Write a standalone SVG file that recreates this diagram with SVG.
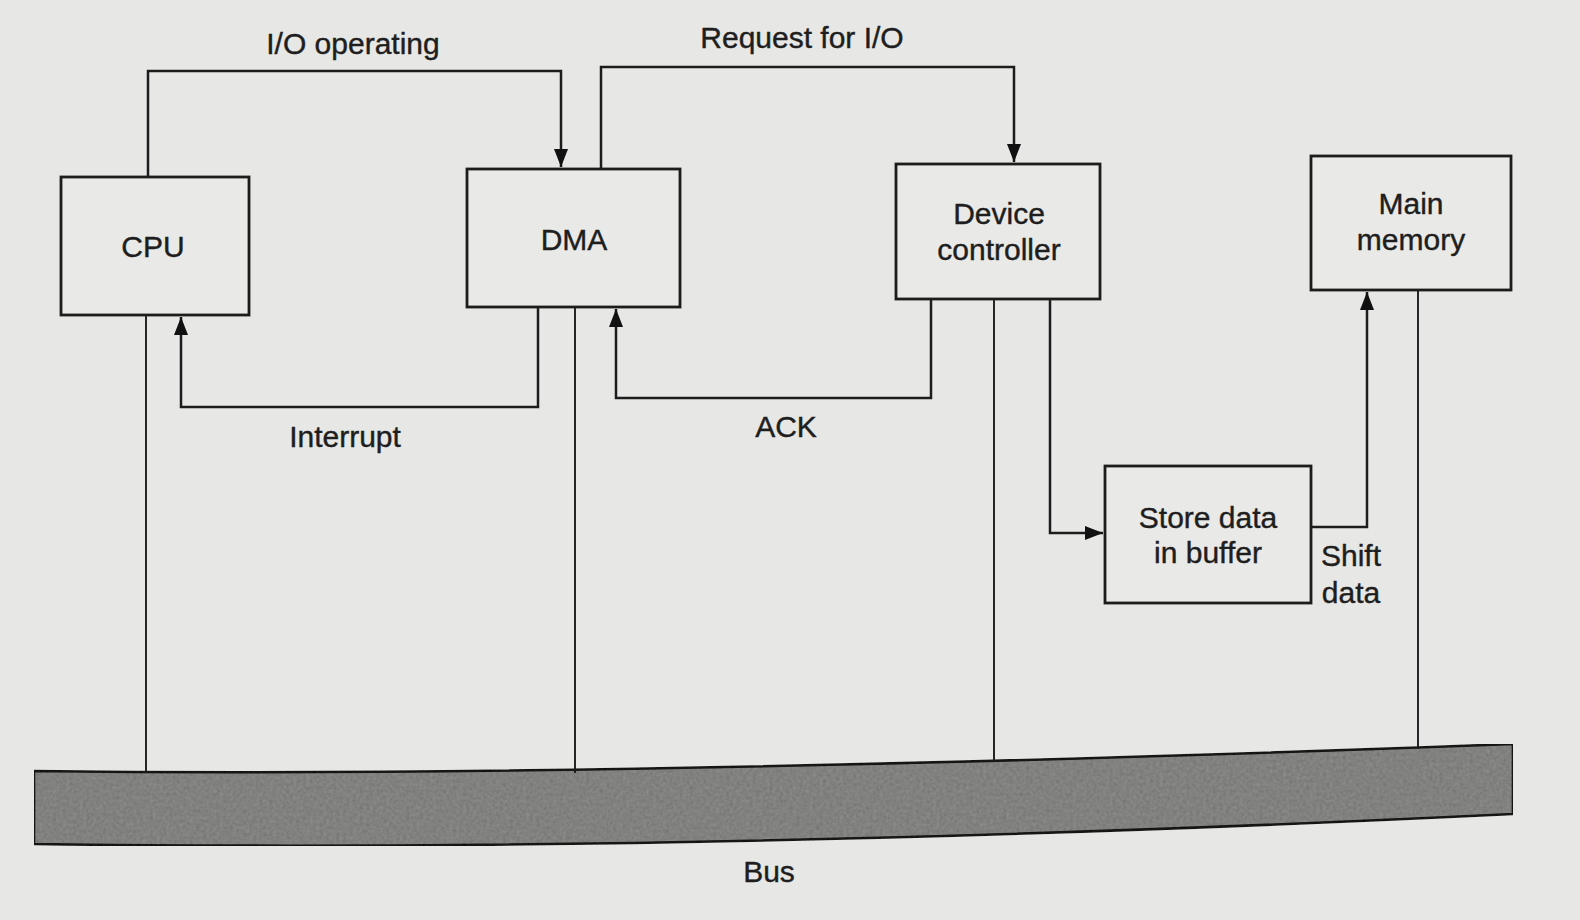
<svg xmlns="http://www.w3.org/2000/svg" width="1580" height="920" viewBox="0 0 1580 920">
<defs>
<style>
.bg{fill:#e7e7e5}
.box{fill:#e9e9e7;stroke:#1c1c1c;stroke-width:2.8}
.wire{fill:none;stroke:#1c1c1c;stroke-width:2.5}
.busline{fill:none;stroke:#1c1c1c;stroke-width:1.9}
.lbl{font-family:"Liberation Sans",Arial,sans-serif;font-size:30px;fill:#1e1e1e;stroke:#1e1e1e;stroke-width:0.4;text-anchor:middle}
.bus{fill:#8a8a88;stroke:#151515;stroke-width:2.6}
</style>
<marker id="arr" viewBox="0 0 18 14" refX="18" refY="7" markerWidth="18" markerHeight="14" markerUnits="userSpaceOnUse" orient="auto">
<path d="M0,0 L18,7 L0,14 Z" fill="#111"/>
</marker>
<filter id="noise" x="0" y="0" width="100%" height="100%">
<feTurbulence type="fractalNoise" baseFrequency="0.3" numOctaves="3" seed="4" result="t"/>
<feColorMatrix in="t" type="matrix" values="0 0 0 0 0.45  0 0 0 0 0.45  0 0 0 0 0.45  0 0 0 0.8 -0.15" result="n"/>
<feComposite in="n" in2="SourceGraphic" operator="in" result="nn"/>
<feBlend in="nn" in2="SourceGraphic" mode="multiply"/>
</filter>
</defs>
<rect class="bg" x="0" y="0" width="1580" height="920"/>

<g id="bus">
<path class="bus" filter="url(#noise)" d="M34,771 Q600,778 1513,744 L1513,814 Q700,853 34,844 Z"/>
<text class="lbl" x="769" y="882">Bus</text>
</g>

<g id="connectors">
<path class="wire" d="M148,177 V71 H561 V167" marker-end="url(#arr)"/>
<path class="wire" d="M601,169 V67 H1014 V162" marker-end="url(#arr)"/>
<path class="wire" d="M538,307 V407 H181 V317" marker-end="url(#arr)"/>
<path class="wire" d="M931,299 V398 H616 V309" marker-end="url(#arr)"/>
<path class="wire" d="M1050,299 V533 H1103" marker-end="url(#arr)"/>
<path class="wire" d="M1311,527 H1367 V292" marker-end="url(#arr)"/>
<path class="busline" d="M146,315 V773"/>
<path class="busline" d="M575,307 V773"/>
<path class="busline" d="M994,299 V761"/>
<path class="busline" d="M1418,290 V749"/>
<text class="lbl" x="353" y="54">I/O operating</text>
<text class="lbl" x="802" y="48">Request for I/O</text>
<text class="lbl" x="345" y="447">Interrupt</text>
<text class="lbl" x="786" y="437">ACK</text>
<text class="lbl" x="1351" y="566">Shift</text>
<text class="lbl" x="1351" y="603">data</text>
</g>

<g id="cpu">
<rect class="box" x="61" y="177" width="188" height="138"/>
<text class="lbl" x="153" y="257">CPU</text>
</g>
<g id="dma">
<rect class="box" x="467" y="169" width="213" height="138"/>
<text class="lbl" x="574" y="250">DMA</text>
</g>
<g id="device-controller">
<rect class="box" x="896" y="164" width="204" height="135"/>
<text class="lbl" x="999" y="224">Device</text>
<text class="lbl" x="999" y="260">controller</text>
</g>
<g id="main-memory">
<rect class="box" x="1311" y="156" width="200" height="134"/>
<text class="lbl" x="1411" y="214">Main</text>
<text class="lbl" x="1411" y="250">memory</text>
</g>
<g id="buffer">
<rect class="box" x="1105" y="466" width="206" height="137"/>
<text class="lbl" x="1208" y="528">Store data</text>
<text class="lbl" x="1208" y="563">in buffer</text>
</g>
</svg>
